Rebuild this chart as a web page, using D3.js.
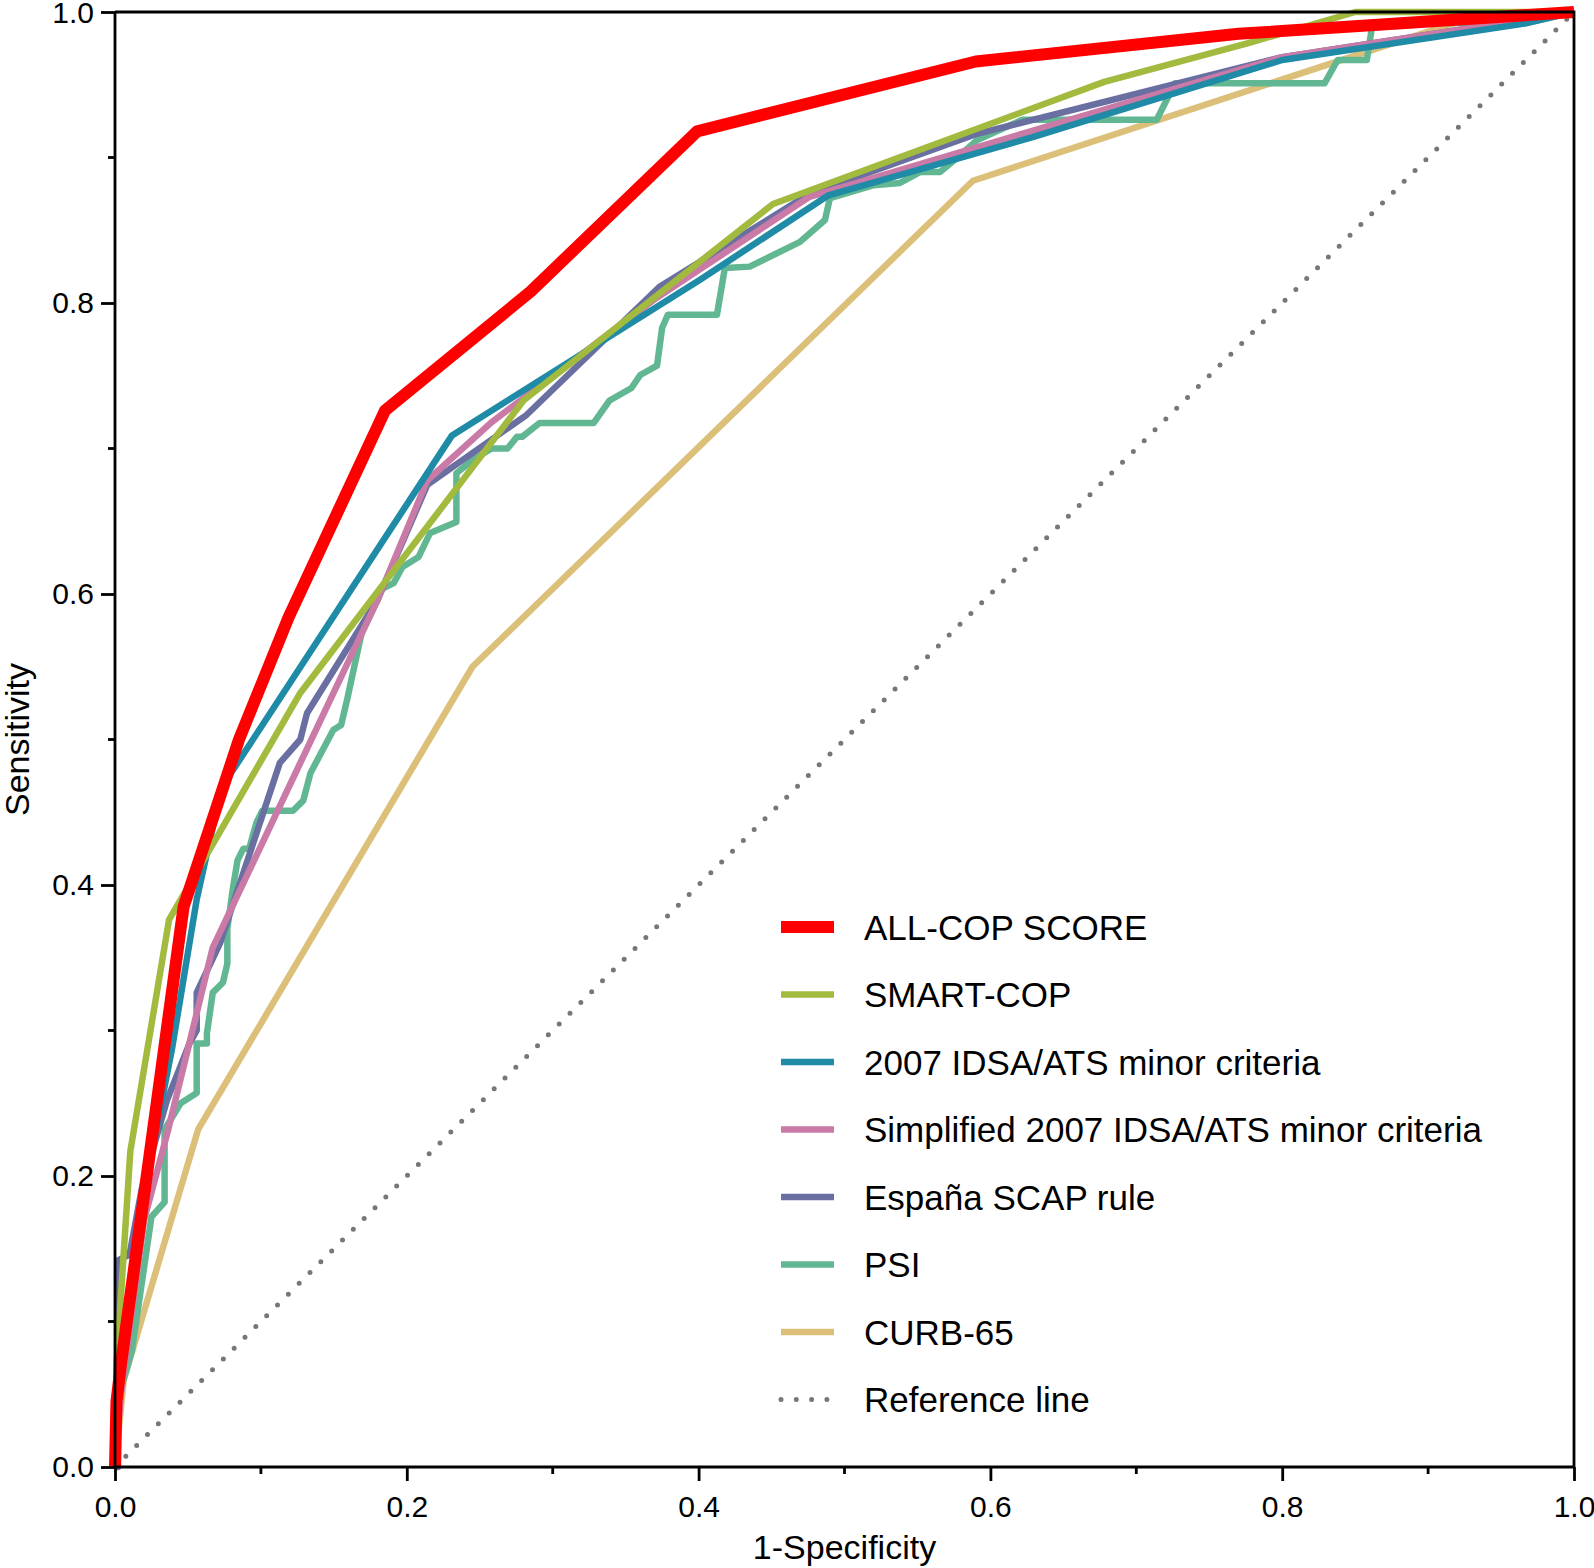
<!DOCTYPE html>
<html>
<head>
<meta charset="utf-8">
<script src="https://cdn.jsdelivr.net/npm/d3@7"></script>
<style>
  html, body { margin: 0; padding: 0; background: #fff; }
  svg { display: block; }
  text { font-family: Arial, "Liberation Sans", sans-serif; fill: #000; }
</style>
</head>
<body>
<svg id="chart" width="1594" height="1568"></svg>
<script>
// ---- data: [1-specificity, sensitivity] points for each score ----
const seriesNames = ["ALL-COP SCORE", "SMART-COP", "2007 IDSA/ATS minor criteria",
  "Simplified 2007 IDSA/ATS minor criteria", "España SCAP rule", "PSI", "CURB-65"];

const allCop = [[0,0],[0.001,0.045],[0.004,0.07],[0.047,0.385],[0.085,0.50],[0.119,0.584],
  [0.185,0.726],[0.285,0.808],[0.399,0.918],[0.590,0.966],[0.77,0.985],[1,1]];

const smartCop = [[0,0],[0.001,0.07],[0.0105,0.217],[0.037,0.376],[0.127,0.532],[0.28,0.733],
  [0.451,0.868],[0.678,0.952],[0.778,0.979],[0.85,1],[1,1]];

const idsaAts = [[0,0],[0.002,0.07],[0.02,0.19],[0.039,0.287],[0.056,0.39],[0.073,0.467],
  [0.231,0.709],[0.401,0.816],[0.489,0.874],[0.629,0.914],[0.80,0.967],[0.966,0.992],[1,1]];

const simplifiedIdsa = [[0,0],[0.004,0.05],[0.02,0.17],[0.036,0.23],[0.067,0.357],[0.18,0.596],
  [0.214,0.678],[0.258,0.718],[0.369,0.802],[0.476,0.873],[0.80,0.969],[1,1]];

const espanaScap = [[0,0],[0.002,0],[0.002,0.142],[0.01,0.146],[0.0185,0.192],[0.0356,0.252],
  [0.051,0.291],[0.056,0.30],[0.056,0.326],[0.072,0.36],[0.113,0.484],[0.127,0.50],[0.1316,0.518],
  [0.18,0.596],[0.214,0.675],[0.282,0.723],[0.373,0.811],[0.476,0.875],[0.59,0.916],[0.80,0.969],[1,1]];

const psi = [[0,0],[0.003,0.05],[0.0116,0.08],[0.025,0.172],[0.034,0.182],[0.034,0.232],[0.045,0.25],
  [0.056,0.257],[0.056,0.291],[0.063,0.291],[0.063,0.298],[0.067,0.326],[0.074,0.333],[0.077,0.346],
  [0.077,0.37],[0.081,0.399],[0.084,0.417],[0.088,0.425],[0.092,0.425],[0.095,0.436],[0.097,0.443],
  [0.101,0.451],[0.122,0.451],[0.129,0.458],[0.134,0.477],[0.1496,0.5065],[0.155,0.51],[0.159,0.527],
  [0.163,0.5455],[0.169,0.573],[0.18,0.596],[0.182,0.603],[0.191,0.6075],[0.197,0.6186],[0.208,0.6254],
  [0.216,0.642],[0.234,0.6495],[0.234,0.683],[0.245,0.692],[0.258,0.700],[0.269,0.700],[0.2755,0.708],
  [0.279,0.708],[0.291,0.7175],[0.328,0.7175],[0.339,0.733],[0.354,0.7416],[0.360,0.7505],[0.3715,0.757],
  [0.375,0.783],[0.379,0.792],[0.4126,0.792],[0.418,0.824],[0.435,0.825],[0.4695,0.842],[0.4866,0.857],
  [0.490,0.872],[0.52,0.881],[0.538,0.8825],[0.5517,0.890],[0.5655,0.890],[0.577,0.8997],[0.591,0.912],
  [0.622,0.926],[0.714,0.926],[0.7265,0.951],[0.829,0.951],[0.838,0.967],[0.858,0.967],[0.862,0.9925],
  [0.968,0.9925],[1,1]];

const curb65 = [[0,0],[0.006,0.06],[0.057,0.232],[0.245,0.55],[0.588,0.884],[0.92,0.993],[1,1]];

const referenceLine = [[0,0],[1,1]];

const xTicks = [0, 0.2, 0.4, 0.6, 0.8, 1.0];
const yTicks = [0, 0.2, 0.4, 0.6, 0.8, 1.0];
const minorTicks = [0.1, 0.3, 0.5, 0.7, 0.9];

// ---- styles ----
const seriesData = [allCop, smartCop, idsaAts, simplifiedIdsa, espanaScap, psi, curb65];
const colors = ["#FF0000", "#A2BA3E", "#1F8BA7", "#C97AA6", "#6A6FA2", "#62B793", "#DCC07A"];
const widths = [12, 6.5, 6.5, 6.5, 6.5, 6.5, 6.5];

const svg = d3.select("#chart");
const margin = {left: 115, top: 12};
const W = 1459, H = 1455;
const x = d3.scaleLinear().domain([0, 1]).range([margin.left, margin.left + W]);
const y = d3.scaleLinear().domain([0, 1]).range([margin.top + H, margin.top]);

const line = d3.line().x(d => x(d[0])).y(d => y(d[1]));

// reference line
svg.append("path")
  .attr("d", line(referenceLine))
  .attr("fill", "none")
  .attr("stroke", "#777")
  .attr("stroke-width", 5)
  .attr("stroke-linecap", "round")
  .attr("stroke-dasharray", "0 15.3");

// series, drawn bottom to top
for (let i = seriesData.length - 1; i >= 0; i--) {
  svg.append("path")
    .attr("d", line(seriesData[i]))
    .attr("fill", "none")
    .attr("stroke", colors[i])
    .attr("stroke-width", widths[i])
    .attr("stroke-linejoin", "round")
    .attr("stroke-linecap", "butt");
}

// axes
const axisW = 2.8;
const xAxis = d3.axisBottom(x).tickValues(xTicks).tickSize(14).tickPadding(15)
  .tickFormat(d3.format(".1f"));
const gx = svg.append("g").attr("transform", `translate(0,${margin.top + H})`).call(xAxis);
const yAxis = d3.axisLeft(y).tickValues(yTicks).tickSize(14).tickPadding(7)
  .tickFormat(d3.format(".1f"));
const gy = svg.append("g").attr("transform", `translate(${margin.left},0)`).call(yAxis);
[gx, gy].forEach(g => {
  g.select(".domain").attr("stroke", "#000").attr("stroke-width", axisW);
  g.selectAll(".tick line").attr("stroke", "#000").attr("stroke-width", axisW);
  g.selectAll(".tick text").attr("font-size", 30).attr("fill", "#000")
    .style("font-family", "Arial, 'Liberation Sans', sans-serif");
});
gx.select(".domain").attr("d", `M${x(0)},0H${x(1)}`);
gy.select(".domain").attr("d", `M0,${y(0)}V${y(1)}`);
gy.selectAll(".tick text").filter(d => d === 1).attr("dy", "0.36em");

// minor ticks
svg.append("g").selectAll("line").data(minorTicks).join("line")
  .attr("x1", d => x(d)).attr("x2", d => x(d))
  .attr("y1", y(0)).attr("y2", y(0) + 7)
  .attr("stroke", "#000").attr("stroke-width", axisW);
svg.append("g").selectAll("line").data(minorTicks).join("line")
  .attr("y1", d => y(d)).attr("y2", d => y(d))
  .attr("x1", x(0)).attr("x2", x(0) - 7)
  .attr("stroke", "#000").attr("stroke-width", axisW);

// frame top/right
svg.append("path")
  .attr("d", `M${x(0)},${y(1)}H${x(1)}V${y(0)}`)
  .attr("fill", "none").attr("stroke", "#000").attr("stroke-width", axisW);

// axis titles
svg.append("text")
  .attr("x", (x(0) + x(1)) / 2).attr("y", 1559)
  .attr("text-anchor", "middle").attr("font-size", 34)
  .text("1-Specificity");
svg.append("text")
  .attr("transform", `translate(29,${(y(0) + y(1)) / 2}) rotate(-90)`)
  .attr("text-anchor", "middle").attr("font-size", 34)
  .text("Sensitivity");

// legend
const legendX0 = 781, legendX1 = 834, legendTextX = 864, legendY0 = 927, legendStep = 67.5;
const legendItems = seriesNames.map((n, i) => ({name: n, color: colors[i], width: widths[i], dotted: false}))
  .concat([{name: "Reference line", color: "#777", width: 5, dotted: true}]);
const lg = svg.append("g");
legendItems.forEach((it, i) => {
  const ly = legendY0 + i * legendStep;
  lg.append("line")
    .attr("x1", legendX0).attr("x2", legendX1).attr("y1", ly).attr("y2", ly)
    .attr("stroke", it.color).attr("stroke-width", it.width)
    .attr("stroke-linecap", it.dotted ? "round" : "butt")
    .attr("stroke-dasharray", it.dotted ? "0 15.3" : null);
  lg.append("text")
    .attr("x", legendTextX).attr("y", ly)
    .attr("dy", "0.36em")
    .attr("font-size", 35)
    .text(it.name);
});
</script>
</body>
</html>
